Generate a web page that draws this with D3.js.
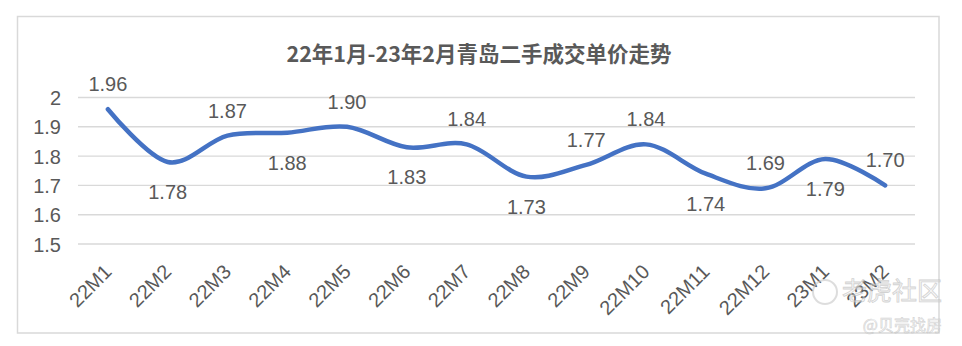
<!DOCTYPE html>
<html>
<head>
<meta charset="utf-8">
<script src="https://cdn.jsdelivr.net/npm/d3@7"></script>
<style>
  html, body { margin: 0; padding: 0; background: #ffffff; }
  svg { display: block; }
</style>
</head>
<body>
<div id="chart"></div>
<script>
// ---- data ----
const categories = ["22M1","22M2","22M3","22M4","22M5","22M6","22M7","22M8","22M9","22M10","22M11","22M12","23M1","23M2"];
const prices = [1.96, 1.78, 1.87, 1.88, 1.90, 1.83, 1.84, 1.73, 1.77, 1.84, 1.74, 1.69, 1.79, 1.70];
const labelPlacement = ["above","below","above","below","above","below","above","below","above","above","below","above","below","above"];
const yTicks = [1.5, 1.6, 1.7, 1.8, 1.9, 2];
const yTickLabels = ["1.5", "1.6", "1.7", "1.8", "1.9", "2"];
const title = "22年1月-23年2月青岛二手成交单价走势";
const watermarks = ["老虎社区", "@贝壳找房"];

// ---- layout ----
const W = 962, H = 346;
const plot = { left: 78, right: 915, top: 97.5, bottom: 244 };
const textColor = "#595959";
const numFont = "'Liberation Sans', Arial, sans-serif";
const numSize = 20;

const svg = d3.select("#chart").append("svg")
  .attr("width", W).attr("height", H);

// chart border
svg.append("rect")
  .attr("x", 17.5).attr("y", 16.5)
  .attr("width", 921.5).attr("height", 316.5)
  .attr("fill", "#ffffff")
  .attr("stroke", "#d9d9d9").attr("stroke-width", 1.5);

// title
svg.append("text")
  .attr("x", 479).attr("y", 62)
  .attr("text-anchor", "middle")
  .attr("font-family", "'Noto Sans CJK SC', sans-serif")
  .attr("font-weight", 700)
  .attr("font-size", 21.5)
  .attr("fill", textColor)
  .text(title);

const x = d3.scaleBand().domain(categories).range([plot.left, plot.right]).padding(0);
const y = d3.scaleLinear().domain([1.5, 2]).range([plot.bottom, plot.top]);

// gridlines
svg.append("g").selectAll("line").data(yTicks).join("line")
  .attr("x1", plot.left).attr("x2", plot.right)
  .attr("y1", d => y(d)).attr("y2", d => y(d))
  .attr("stroke", "#d9d9d9").attr("stroke-width", 1.4);

// y axis labels
const yAxis = d3.axisLeft(y).tickValues(yTicks)
  .tickFormat((d, i) => yTickLabels[i]).tickSize(0).tickPadding(0);
const gy = svg.append("g").attr("transform", `translate(${plot.left - 17},0)`).call(yAxis);
gy.select(".domain").remove();
gy.selectAll("text")
  .attr("font-family", numFont).attr("font-size", numSize)
  .attr("fill", textColor).attr("dy", "0.35em");

// x axis labels
const xAxis = d3.axisBottom(x).tickSize(0).tickPadding(0);
const gx = svg.append("g").attr("transform", `translate(0,${plot.bottom})`).call(xAxis);
gx.select(".domain").remove();
gx.selectAll("text")
  .attr("font-family", numFont).attr("font-size", numSize)
  .attr("fill", textColor)
  .attr("text-anchor", "end")
  .attr("dy", null)
  .attr("y", null)
  .attr("transform", "translate(5,29) rotate(-45)");

// line
const line = d3.line()
  .x((d, i) => x(categories[i]) + x.bandwidth() / 2)
  .y(d => y(d))
  .curve(d3.curveCardinal.tension(0));
svg.append("path")
  .datum(prices)
  .attr("d", line)
  .attr("fill", "none")
  .attr("stroke", "#4472C4")
  .attr("stroke-width", 4.5)
  .attr("stroke-linecap", "round")
  .attr("stroke-linejoin", "round");

// data labels
svg.append("g").selectAll("text").data(prices).join("text")
  .attr("x", (d, i) => x(categories[i]) + x.bandwidth() / 2)
  .attr("y", (d, i) => y(d) + (labelPlacement[i] === "above" ? -18 : 37))
  .attr("text-anchor", "middle")
  .attr("font-family", numFont).attr("font-size", numSize)
  .attr("fill", textColor)
  .text(d => d3.format(".2f")(d));

// watermarks
const wm = svg.append("g").attr("opacity", 0.6);
wm.append("circle").attr("cx", 825).attr("cy", 292).attr("r", 12)
  .attr("fill", "none").attr("stroke", "#c8c8c8").attr("stroke-width", 2);
wm.append("text").attr("x", 942).attr("y", 300)
  .attr("text-anchor", "end")
  .attr("font-family", "'Noto Sans CJK SC', sans-serif")
  .attr("font-size", 25)
  .attr("fill", "#f4f4f4").attr("stroke", "#b5b5b5").attr("stroke-width", 0.8)
  .text(watermarks[0]);
wm.append("text").attr("x", 942).attr("y", 331)
  .attr("text-anchor", "end")
  .attr("font-family", "'Noto Sans CJK SC', sans-serif")
  .attr("font-size", 16)
  .attr("fill", "#f4f4f4").attr("stroke", "#b5b5b5").attr("stroke-width", 0.6)
  .text(watermarks[1]);
</script>
</body>
</html>
